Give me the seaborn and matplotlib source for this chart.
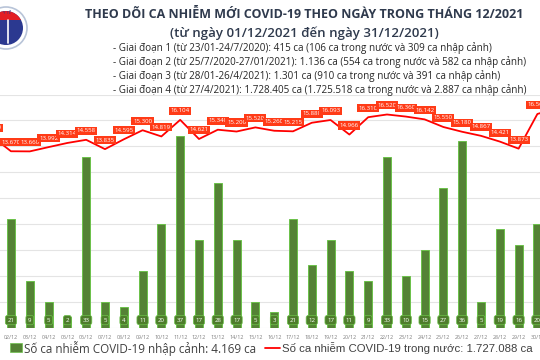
import numpy as np
import pandas as pd
import matplotlib
matplotlib.use('Agg')
import matplotlib.pyplot as plt
import matplotlib.patches as mpatches
import seaborn as sns

# dates of December 2021 (01/12 and 31/12 sit just outside the visible crop)
days = ['01/12', '02/12', '03/12', '04/12', '05/12', '06/12', '07/12', '08/12',
        '09/12', '10/12', '11/12', '12/12', '13/12', '14/12', '15/12', '16/12',
        '17/12', '18/12', '19/12', '20/12', '21/12', '22/12', '23/12', '24/12',
        '25/12', '26/12', '27/12', '28/12', '29/12', '30/12', '31/12']
# imported cases (bars)
imported = [16, 21, 9, 5, 2, 33, 5, 4, 11, 20, 37, 17, 28, 17, 5, 3,
            21, 12, 17, 11, 9, 33, 10, 15, 27, 36, 5, 19, 16, 20, 8]
# domestic cases (line)
domestic = [14800, 13670, 13660, 13992, 14314, 14558, 13835, 14595, 15300, 14819,
            16104, 14621, 15340, 15200, 15520, 15260, 15215, 15880, 16093, 14966,
            16310, 16520, 16360, 16142, 15550, 15180, 14867, 14421, 13873, 16560, 17000]

title = "THEO DÕI CA NHIỄM MỚI COVID-19 THEO NGÀY TRONG THÁNG 12/2021"
subtitle = "(từ ngày 01/12/2021 đến ngày 31/12/2021)"
phases = [
    "- Giai đoạn 1 (từ 23/01-24/7/2020): 415 ca (106 ca trong nước và 309 ca nhập cảnh)",
    "- Giai đoạn 2 (từ 25/7/2020-27/01/2021): 1.136 ca (554 ca trong nước và 582 ca nhập cảnh)",
    "- Giai đoạn 3 (từ 28/01-26/4/2021): 1.301 ca (910 ca trong nước và 391 ca nhập cảnh)",
    "- Giai đoạn 4 (từ 27/4/2021): 1.728.405 ca (1.725.518 ca trong nước và 2.887 ca nhập cảnh)",
]
legend_bar = "Số ca nhiễm COVID-19 nhập cảnh: 4.169 ca"
legend_line = "Số ca nhiễm COVID-19 trong nước: 1.727.088 ca"

df = pd.DataFrame({'day': days, 'imported': imported, 'domestic': domestic})


def dotted(v):
    return f"{v:,}".replace(",", ".")


sns.set_style('white')
plt.rcParams['font.family'] = ['Open Sans', 'DejaVu Sans']

fig = plt.figure(figsize=(5.4, 3.6), dpi=100)
ax = fig.add_axes([-0.0319, 0.09, 1.0793, 0.6475])
sns.barplot(data=df, x='day', y='imported', color='#548235', saturation=1,
            width=0.43, edgecolor='#6CC24A', linewidth=0.7, ax=ax, zorder=2)
ax.set_ylim(0, 45)
ax.set_yticks(range(0, 46, 5))
ax.yaxis.grid(True, color='#E4E4E4', lw=0.8)
ax.set_axisbelow(True)
ax.tick_params(axis='y', left=False, labelleft=False)
ax.tick_params(axis='x', bottom=False, labelsize=3.9, labelcolor='#7F7F7F', pad=1.5)
for s in ax.spines.values():
    s.set_visible(False)
ax.set_xlabel('')
ax.set_ylabel('')

for i, v in enumerate(df['imported']):
    ax.text(i, 1.45, str(v), ha='center', va='center', fontsize=4.4, color='white',
            zorder=4, bbox=dict(boxstyle='round,pad=0.35', fc='#4E7D2B', ec='#6CC24A', lw=0.5))

ax2 = ax.twinx()
sns.lineplot(x=np.arange(len(days)), y=df['domestic'], ax=ax2, color='#FF0000', lw=1.3)
ax2.set_ylim(0, 18070)
ax2.set_yticks([])
ax2.set_ylabel('')
for s in ax2.spines.values():
    s.set_visible(False)
for i, v in enumerate(df['domestic']):
    ax2.text(i, v + 700, dotted(v), ha='center', va='center', fontsize=4.4, color='white',
             zorder=5, bbox=dict(boxstyle='square,pad=0.25', fc='#FF3B17', ec='none'))
ax.set_xlim(-0.5, len(days) - 0.5)

# overlay in pixel coordinates for the header, logo and legend
ov = fig.add_axes([0, 0, 1, 1])
ov.set_xlim(0, 540)
ov.set_ylim(360, 0)
ov.axis('off')

ring = mpatches.Circle((6, 28), 21, fc='white', ec='#B8C4D8', lw=1.2)
ov.add_patch(ring)
disc = mpatches.Circle((6, 28), 17, fc='#2B3990', ec='none')
ov.add_patch(disc)
top = mpatches.Rectangle((-15, 8), 40, 12, fc='#E31E24', ec='none')
ov.add_patch(top)
top.set_clip_path(disc)
ov.plot([8, 8], [20, 43], color='white', lw=1.2)
ov.text(7, 13, "Y TẾ", fontsize=3, color='#2B3990', ha='center', va='center')

ov.text(304, 15, title, ha='center', va='center', fontsize=9, fontweight='bold', color='#2F3A4D')
ov.text(304, 33, subtitle, ha='center', va='center', fontsize=9.5, fontweight='semibold', color='#2F3A4D')
for k, line in enumerate(phases):
    ov.text(113, 48 + 14 * k, line, ha='left', va='center', fontsize=7.1, color='#262626')

ov.add_patch(mpatches.Rectangle((10, 343), 12, 9, fc='#548235', ec='#6CC24A', lw=0.5))
ov.text(24, 348, legend_bar, ha='left', va='center', fontsize=8.4, color='#404040')
ov.plot([265, 280], [348, 348], color='#FF0000', lw=1.3)
ov.text(282, 348, legend_line, ha='left', va='center', fontsize=8.2,
        family=['Liberation Sans', 'DejaVu Sans'], color='#404040')

fig.savefig('out.png', dpi=100)
